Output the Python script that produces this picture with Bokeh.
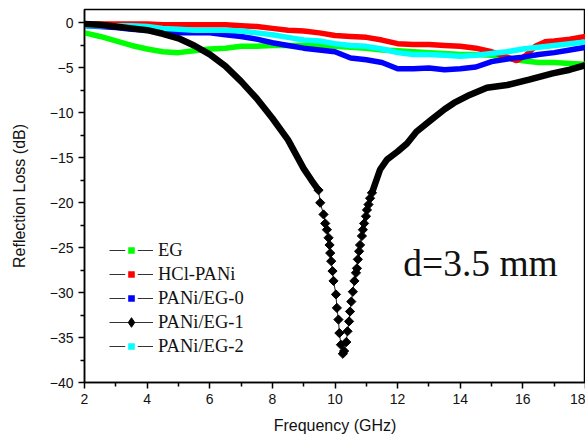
import numpy as np
from bokeh.plotting import figure
from bokeh.models import FixedTicker, Legend, LegendItem, Label, Range1d
from bokeh.embed import file_html
from bokeh.resources import INLINE

# ---- data (frequency GHz, reflection loss dB) ----
eg_f = [2.0, 2.5, 3.0, 3.5, 4.0, 4.5, 5.0, 5.5, 6.0, 6.5, 7.0, 7.5, 8.0, 8.5, 9.0, 9.5, 10.0,
        10.5, 11.0, 11.5, 12.0, 12.5, 13.0, 13.5, 14.0, 14.5, 15.0, 15.5, 16.0, 16.5, 17.0, 17.5, 18.0]
eg_rl = [-1.1, -1.5, -2.0, -2.5, -2.9, -3.2, -3.3, -3.1, -2.9, -2.8, -2.6, -2.6, -2.5, -2.5, -2.5, -2.5, -2.6,
         -2.7, -2.8, -3.0, -3.1, -3.2, -3.3, -3.4, -3.5, -3.5, -3.6, -3.9, -4.2, -4.4, -4.4, -4.5, -4.6]

hcl_f = [2.0, 2.5, 3.0, 3.5, 4.0, 4.5, 5.0, 5.5, 6.0, 6.5, 7.0, 7.5, 8.0, 8.5, 9.0, 9.5, 10.0,
         10.5, 11.0, 11.5, 12.0, 12.5, 13.0, 13.5, 14.0, 14.5, 15.0, 15.5, 15.8, 16.1, 16.4, 16.7, 17.0, 17.5, 18.0]
hcl_rl = [-0.1, -0.1, -0.1, -0.1, -0.1, -0.2, -0.2, -0.2, -0.2, -0.2, -0.3, -0.4, -0.6, -0.8, -0.9, -1.1, -1.4,
          -1.5, -1.6, -1.9, -2.3, -2.4, -2.4, -2.5, -2.6, -2.8, -3.2, -3.8, -4.2, -3.6, -2.6, -2.1, -2.0, -1.8, -1.5]

eg0_f = [2.0, 2.5, 3.0, 3.5, 4.0, 4.5, 5.0, 5.5, 6.0, 6.5, 7.0, 7.5, 8.0, 8.5, 9.0, 9.5, 10.0,
         10.5, 11.0, 11.5, 12.0, 12.5, 13.0, 13.5, 14.0, 14.5, 15.0, 15.5, 16.0, 16.5, 17.0, 17.5, 18.0]
eg0_rl = [-0.3, -0.4, -0.5, -0.7, -0.8, -1.0, -1.1, -1.1, -1.1, -1.3, -1.5, -1.8, -2.2, -2.5, -2.8, -3.0, -3.2,
          -3.9, -4.1, -4.4, -5.1, -5.1, -5.0, -5.2, -5.1, -4.9, -4.3, -4.0, -3.8, -3.5, -3.3, -3.0, -2.7]

eg1_f = [2.0, 2.5, 3.0, 3.5, 4.0, 4.5, 5.0, 5.5, 6.0, 6.5, 7.0, 7.5, 8.0, 8.5, 9.0, 9.25,
         9.474, 9.528, 9.634, 9.687, 9.741, 9.794, 9.826, 9.847, 9.879, 9.921, 9.953, 10.03, 10.06,
         10.11, 10.14, 10.19, 10.25, 10.29, 10.36, 10.40, 10.45, 10.48, 10.52, 10.57, 10.62, 10.67,
         10.70, 10.73, 10.77, 10.80, 10.86, 10.89, 10.93, 10.99, 11.02, 11.07, 11.12, 11.18,
         11.44, 11.66, 12.0, 12.3, 12.6, 13.1, 13.5, 13.8, 14.3, 14.85, 15.5, 16.2, 16.95, 17.5, 18.0]
eg1_rl = [-0.1, -0.2, -0.4, -0.6, -0.8, -1.2, -1.7, -2.5, -3.5, -4.8, -6.5, -8.4, -10.6, -13.0, -16.2, -17.5,
          -18.6, -20.0, -21.3, -22.3, -23.0, -23.9, -24.7, -25.6, -26.5, -27.6, -28.7, -30.2, -31.7,
          -33.0, -34.5, -35.8, -36.8, -36.5, -35.5, -34.3, -33.2, -32.1, -31.0, -29.9, -28.7, -27.8,
          -27.3, -26.3, -25.4, -24.7, -23.7, -23.0, -22.3, -21.5, -20.8, -20.2, -19.5, -18.9,
          -16.3, -15.2, -14.3, -13.4, -12.1, -10.7, -9.6, -8.9, -8.0, -7.2, -6.9, -6.3, -5.6, -5.2, -4.7]

eg2_f = [2.0, 2.5, 3.0, 3.5, 4.0, 4.5, 5.0, 5.5, 6.0, 6.5, 7.0, 7.5, 8.0, 8.5, 9.0, 9.5, 10.0,
         10.5, 11.0, 11.5, 12.0, 12.5, 13.0, 13.5, 14.0, 14.5, 15.0, 15.5, 16.0, 16.5, 17.0, 17.5, 18.0]
eg2_rl = [-0.3, -0.3, -0.3, -0.3, -0.4, -0.6, -0.7, -0.8, -0.8, -0.8, -0.9, -1.1, -1.3, -1.6, -1.9, -2.0, -2.3,
          -2.5, -2.6, -2.9, -3.3, -3.5, -3.5, -3.6, -3.7, -3.6, -3.4, -3.2, -2.9, -2.7, -2.5, -2.3, -2.1]

names = ["EG", "HCl-PANi", "PANi/EG-0", "PANi/EG-1", "PANi/EG-2"]
colors = ["#00FF00", "#FF0000", "#0000FF", "#000000", "#00FFFF"]
series_f = [eg_f, hcl_f, eg0_f, eg1_f, eg2_f]
series_rl = [eg_rl, hcl_rl, eg0_rl, eg1_rl, eg2_rl]

x_ticks = [2, 4, 6, 8, 10, 12, 14, 16, 18]
x_minor = [3, 5, 7, 9, 11, 13, 15, 17]
y_ticks = [-40, -35, -30, -25, -20, -15, -10, -5, 0]
y_minor = [-37.5, -32.5, -27.5, -22.5, -17.5, -12.5, -7.5, -2.5]

# ---- figure ----
p = figure(width=585, height=436, x_range=Range1d(2, 18), y_range=Range1d(-40, 1.5),
           output_backend="svg", toolbar_location=None,
           min_border_left=84, min_border_right=0, min_border_top=9, min_border_bottom=53)
p.grid.visible = False
p.outline_line_color = "black"
p.outline_line_width = 1.5
p.background_fill_color = "white"
p.border_fill_color = "white"

for ax, ticks, minor in ((p.xaxis[0], x_ticks, x_minor), (p.yaxis[0], y_ticks, y_minor)):
    ax.ticker = FixedTicker(ticks=ticks, minor_ticks=minor)
    ax.axis_line_width = 1.5
    ax.major_tick_out = 6
    ax.major_tick_in = 0
    ax.minor_tick_out = 4
    ax.minor_tick_in = 0
    ax.major_tick_line_width = 1.5
    ax.minor_tick_line_width = 1.5
    ax.major_label_text_font = "Liberation Sans"
    ax.major_label_text_font_size = "14px"
    ax.major_label_text_color = "#111111"
    ax.major_label_standoff = 5
    ax.axis_label_text_font = "Liberation Sans"
    ax.axis_label_text_font_size = "16px"
    ax.axis_label_text_font_style = "normal"
    ax.axis_label_text_color = "#111111"

p.xaxis.axis_label = "Frequency (GHz)"
p.xaxis.axis_label_standoff = 10
p.yaxis.axis_label = "Reflection Loss (dB)"
p.yaxis.axis_label_standoff = 19

# ---- curves ----
lw = 5.5
p.line(eg_f, eg_rl, line_color=colors[0], line_width=lw)
p.line(hcl_f, hcl_rl, line_color=colors[1], line_width=lw)
p.line(eg0_f, eg0_rl, line_color=colors[2], line_width=lw)
p.line(eg2_f, eg2_rl, line_color=colors[4], line_width=lw)

i0 = eg1_f.index(9.474)
i1 = eg1_f.index(11.18)
p.line(eg1_f, eg1_rl, line_color="#222222", line_width=1)
p.line(eg1_f[:i0 + 1], eg1_rl[:i0 + 1], line_color="black", line_width=6.5)
p.line(eg1_f[i1:], eg1_rl[i1:], line_color="black", line_width=6.5)
p.scatter(eg1_f[i0:i1 + 1], eg1_rl[i0:i1 + 1], marker="square", angle=np.pi / 4,
          size=6.5, fill_color="black", line_color="black")

# ---- legend (hidden renderers used only for their legend glyphs) ----
items = []
for name, col, fx, fy in zip(names, colors, series_f, series_rl):
    ln = p.line(fx, fy, line_color="#333333", line_width=1, visible=False)
    if name == "PANi/EG-1":
        mk = p.scatter(fx, fy, marker="diamond", fill_color=col,
                       line_color=col, line_width=1, visible=False)
    else:
        mk = p.scatter(fx, fy, marker="square", fill_color=col,
                       line_color="white", line_width=3, visible=False)
    items.append(LegendItem(label=name, renderers=[ln, mk]))

legend = Legend(items=items, location=(25, 24), padding=0, margin=0, spacing=0,
                glyph_width=44, glyph_height=24, label_height=24, label_standoff=5,
                label_text_font="Liberation Serif", label_text_font_size="18.5px",
                label_text_color="#111111", border_line_color=None, background_fill_alpha=0,
                click_policy="none")
p.add_layout(legend, "center")

p.add_layout(Label(x=12.18, y=-26.8, text="d=3.5 mm", text_font="Liberation Serif",
                   text_font_size="37.5px", text_color="#111111", text_baseline="alphabetic"))

open("out.html", "w").write(file_html(p, INLINE))
